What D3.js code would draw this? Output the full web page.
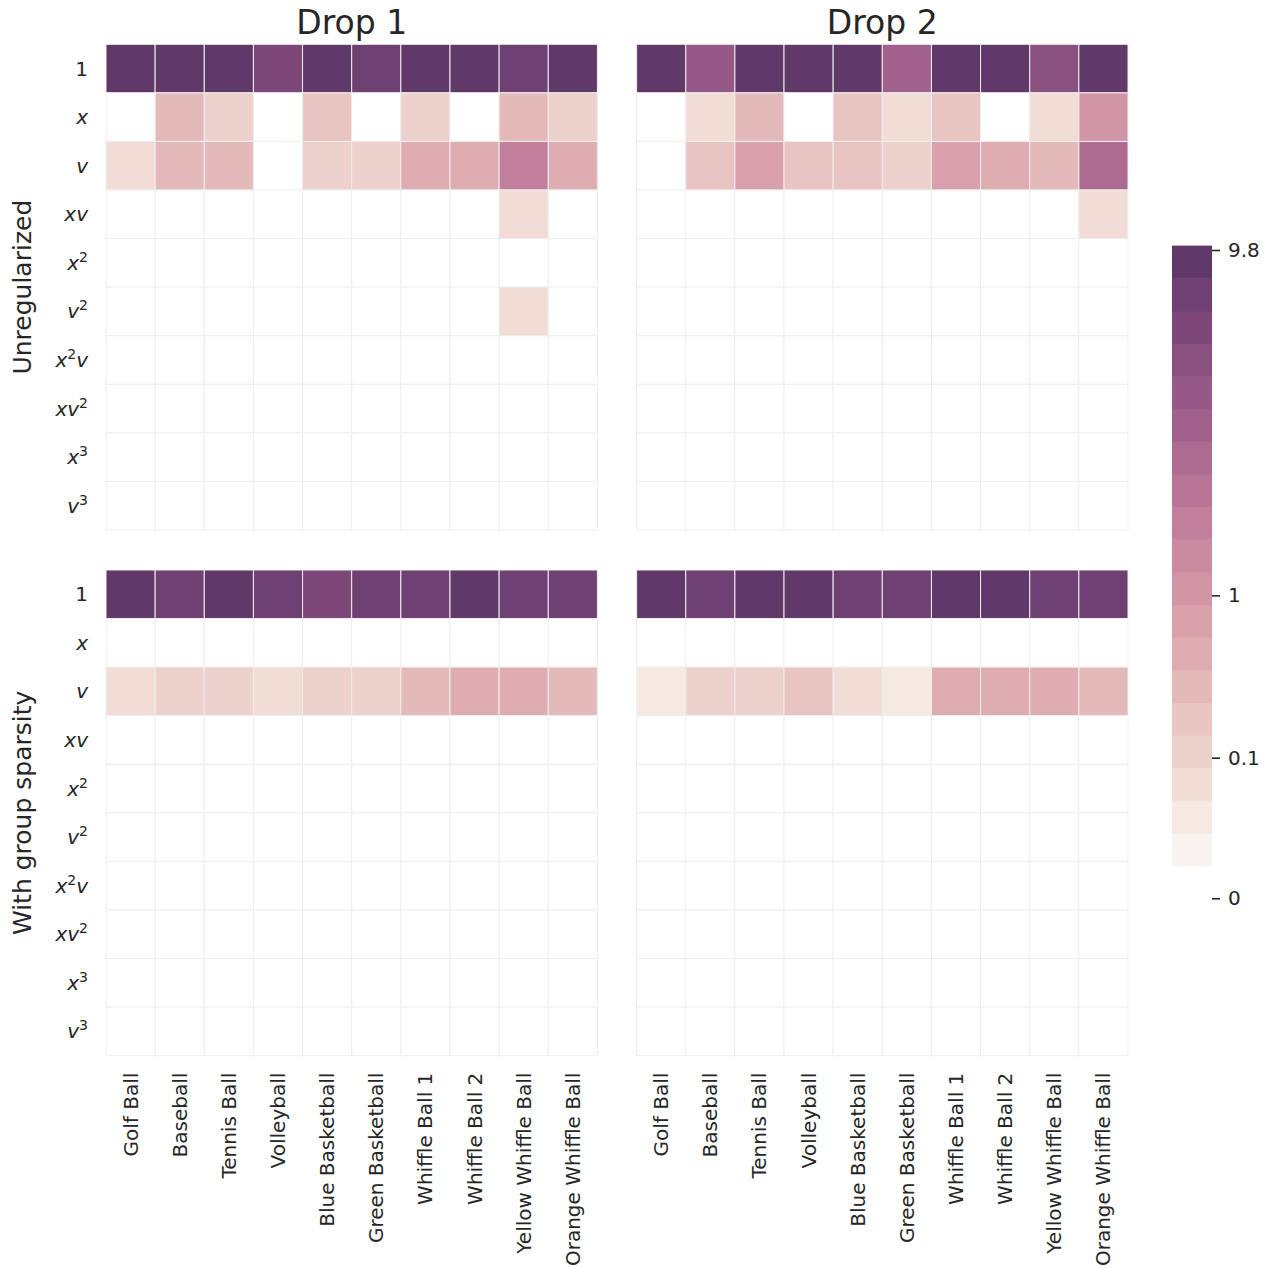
<!DOCTYPE html>
<html><head><meta charset="utf-8">
<script src="https://cdn.jsdelivr.net/npm/d3@7"></script>
<style>html,body{margin:0;padding:0;background:#fff;} svg{display:block;font-family:"DejaVu Sans",sans-serif;}</style>
</head><body><svg id="chart" width="1271" height="1268"></svg>
<script>
// ---------- data ----------
const balls = ["Golf Ball","Baseball","Tennis Ball","Volleyball","Blue Basketball","Green Basketball","Whiffle Ball 1","Whiffle Ball 2","Yellow Whiffle Ball","Orange Whiffle Ball"];
const terms = ["1","x","v","xv","x^2","v^2","x^2v","xv^2","x^3","v^3"];
const dropTitles = ["Drop 1","Drop 2"];
const methodTitles = ["Unregularized","With group sparsity"];

// rows follow `terms`, columns follow `balls`
const unregDrop1 = [
  [9.3, 9.3, 9.3, 6.8, 9.3, 8.0, 9.3, 9.3, 8.0, 9.3],
  [0, 0.35, 0.115, 0, 0.21, 0, 0.115, 0, 0.35, 0.115],
  [0.054, 0.35, 0.35, 0, 0.115, 0.115, 0.53, 0.53, 1.9, 0.53],
  [0, 0, 0, 0, 0, 0, 0, 0, 0.054, 0],
  [0, 0, 0, 0, 0, 0, 0, 0, 0, 0],
  [0, 0, 0, 0, 0, 0, 0, 0, 0.054, 0],
  [0, 0, 0, 0, 0, 0, 0, 0, 0, 0],
  [0, 0, 0, 0, 0, 0, 0, 0, 0, 0],
  [0, 0, 0, 0, 0, 0, 0, 0, 0, 0],
  [0, 0, 0, 0, 0, 0, 0, 0, 0, 0]
];
const unregDrop2 = [
  [9.3, 4.7, 9.3, 9.3, 9.3, 3.85, 9.3, 9.3, 5.7, 9.8],
  [0, 0.054, 0.35, 0, 0.21, 0.054, 0.21, 0, 0.054, 1.08],
  [0, 0.21, 0.78, 0.21, 0.21, 0.115, 0.78, 0.53, 0.35, 3.1],
  [0, 0, 0, 0, 0, 0, 0, 0, 0, 0.054],
  [0, 0, 0, 0, 0, 0, 0, 0, 0, 0],
  [0, 0, 0, 0, 0, 0, 0, 0, 0, 0],
  [0, 0, 0, 0, 0, 0, 0, 0, 0, 0],
  [0, 0, 0, 0, 0, 0, 0, 0, 0, 0],
  [0, 0, 0, 0, 0, 0, 0, 0, 0, 0],
  [0, 0, 0, 0, 0, 0, 0, 0, 0, 0]
];
const sparseDrop1 = [
  [9.3, 8.0, 9.3, 8.0, 6.8, 8.0, 8.0, 9.3, 8.0, 8.0],
  [0, 0, 0, 0, 0, 0, 0, 0, 0, 0],
  [0.054, 0.115, 0.115, 0.054, 0.115, 0.115, 0.35, 0.53, 0.53, 0.35],
  [0, 0, 0, 0, 0, 0, 0, 0, 0, 0],
  [0, 0, 0, 0, 0, 0, 0, 0, 0, 0],
  [0, 0, 0, 0, 0, 0, 0, 0, 0, 0],
  [0, 0, 0, 0, 0, 0, 0, 0, 0, 0],
  [0, 0, 0, 0, 0, 0, 0, 0, 0, 0],
  [0, 0, 0, 0, 0, 0, 0, 0, 0, 0],
  [0, 0, 0, 0, 0, 0, 0, 0, 0, 0]
];
const sparseDrop2 = [
  [9.3, 8.0, 9.3, 9.3, 8.0, 8.0, 9.3, 9.3, 8.0, 8.0],
  [0, 0, 0, 0, 0, 0, 0, 0, 0, 0],
  [0.02, 0.115, 0.115, 0.21, 0.054, 0.02, 0.53, 0.53, 0.53, 0.35],
  [0, 0, 0, 0, 0, 0, 0, 0, 0, 0],
  [0, 0, 0, 0, 0, 0, 0, 0, 0, 0],
  [0, 0, 0, 0, 0, 0, 0, 0, 0, 0],
  [0, 0, 0, 0, 0, 0, 0, 0, 0, 0],
  [0, 0, 0, 0, 0, 0, 0, 0, 0, 0],
  [0, 0, 0, 0, 0, 0, 0, 0, 0, 0],
  [0, 0, 0, 0, 0, 0, 0, 0, 0, 0]
];
const colorbarTicks = [0, 0.1, 1, 9.8];
const colorbarTickLabels = ["0", "0.1", "1", "9.8"];
const vmax = 10;
const nColors = 20;

// ---------- palette (seaborn-style cubehelix, light=1) ----------
function cubehelix(x, start = 0, rot = 0.4, gamma = 1, hue = 0.8) {
  const xg = Math.pow(x, gamma);
  const a = hue * xg * (1 - xg) / 2;
  const phi = 2 * Math.PI * (start / 3 + rot * x);
  const c = Math.cos(phi), s = Math.sin(phi);
  const cl = v => Math.round(Math.max(0, Math.min(1, v)) * 255);
  const r = xg + a * (-0.14861 * c + 1.78277 * s);
  const g = xg + a * (-0.29227 * c - 0.90649 * s);
  const b = xg + a * (1.97294 * c);
  return d3.rgb(cl(r), cl(g), cl(b)).formatHex();
}
const light = 1.0, dark = 0.29;
const palette = d3.range(nColors).map(i => cubehelix(light + (dark - light) * i / (nColors - 1)));

const norm = d3.scalePow().exponent(1 / 3).domain([0, vmax]).range([0, 1]).clamp(true);
const quant = d3.scaleQuantize().domain([0, 1]).range(palette);
const colorOf = v => quant(norm(v));

// ---------- layout ----------
const svg = d3.select("#chart");
const textColor = "#262626";
const panelX = [106, 636.6];
const panelY = [44.3, 570];
const panelW = 491.4, panelH = 485.7;
const grids = [[unregDrop1, unregDrop2], [sparseDrop1, sparseDrop2]];

grids.forEach((rowPanels, r) => {
  rowPanels.forEach((mat, c) => {
    const x0 = panelX[c], y0 = panelY[r];
    const xs = d3.scaleBand().domain(balls).range([x0, x0 + panelW]);
    const ys = d3.scaleBand().domain(terms).range([y0, y0 + panelH]);
    const g = svg.append("g");
    const cells = [];
    terms.forEach((t, i) => balls.forEach((b, j) => cells.push({t, b, v: mat[i][j]})));
    g.selectAll("rect").data(cells).join("rect")
      .attr("x", d => xs(d.b)).attr("y", d => ys(d.t))
      .attr("width", xs.bandwidth()).attr("height", ys.bandwidth())
      .attr("fill", d => colorOf(d.v))
      .attr("stroke", "#eeeeee").attr("stroke-width", 1);

    // row labels (left panels only)
    if (c === 0) {
      terms.forEach(t => {
        const txt = g.append("text")
          .attr("x", x0 - 18).attr("y", ys(t) + ys.bandwidth() / 2 + 7)
          .attr("text-anchor", "end")
          .attr("font-size", 20).attr("fill", textColor);
        const toks = t.match(/[a-z0-9](\^\d)?/g);
        let shift = 0;
        toks.forEach(tok => {
          const base = tok[0];
          const isLetter = /[a-z]/.test(base);
          const ts = txt.append("tspan").text(base)
            .attr("font-style", isLetter ? "italic" : "normal");
          if (shift !== 0) ts.attr("dy", -shift);
          shift = 0;
          if (tok.length > 1) {
            txt.append("tspan").text(tok.slice(2))
              .attr("font-size", 14).attr("dy", -8);
            shift = -8;
          }
        });
      });
      // method label
      svg.append("text")
        .attr("transform", `translate(31,${y0 + panelH / 2}) rotate(-90)`)
        .attr("text-anchor", "middle").attr("font-size", 25).attr("fill", textColor)
        .text(methodTitles[r]);
    }
    // titles
    if (r === 0) {
      svg.append("text").attr("x", x0 + panelW / 2).attr("y", 34)
        .attr("text-anchor", "middle").attr("font-size", 33).attr("fill", textColor)
        .text(dropTitles[c]);
    }
    // column labels (bottom panels)
    if (r === 1) {
      balls.forEach(b => {
        g.append("text")
          .attr("transform", `translate(${xs(b) + xs.bandwidth() / 2},${y0 + panelH + 17}) rotate(-90)`)
          .attr("dy", "0.35em").attr("text-anchor", "end")
          .attr("font-size", 20).attr("fill", textColor)
          .text(b);
      });
    }
  });
});

// ---------- colorbar ----------
const cbX = 1172, cbW = 40;
const cbScale = d3.scalePow().exponent(1 / 3).domain([0, vmax]).range([898.3, 245.6]);
const bands = d3.range(nColors).map(i => ({
  lo: norm.invert(i / nColors), hi: norm.invert((i + 1) / nColors), color: palette[i]
}));
const cb = svg.append("g");
cb.selectAll("rect").data(bands).join("rect")
  .attr("x", cbX).attr("width", cbW)
  .attr("y", d => cbScale(d.hi)).attr("height", d => cbScale(d.lo) - cbScale(d.hi) + 0.5)
  .attr("fill", d => d.color);
const axis = d3.axisRight(cbScale).tickValues(colorbarTicks)
  .tickFormat((d, i) => colorbarTickLabels[i]).tickSize(8).tickPadding(8);
const ax = svg.append("g").attr("transform", `translate(${cbX + cbW},0)`).call(axis);
ax.select(".domain").remove();
ax.selectAll("line").attr("stroke", textColor).attr("stroke-width", 1.6);
ax.selectAll("text").attr("font-size", 20).attr("fill", textColor).attr("font-family", "DejaVu Sans");
</script>
</body></html>
